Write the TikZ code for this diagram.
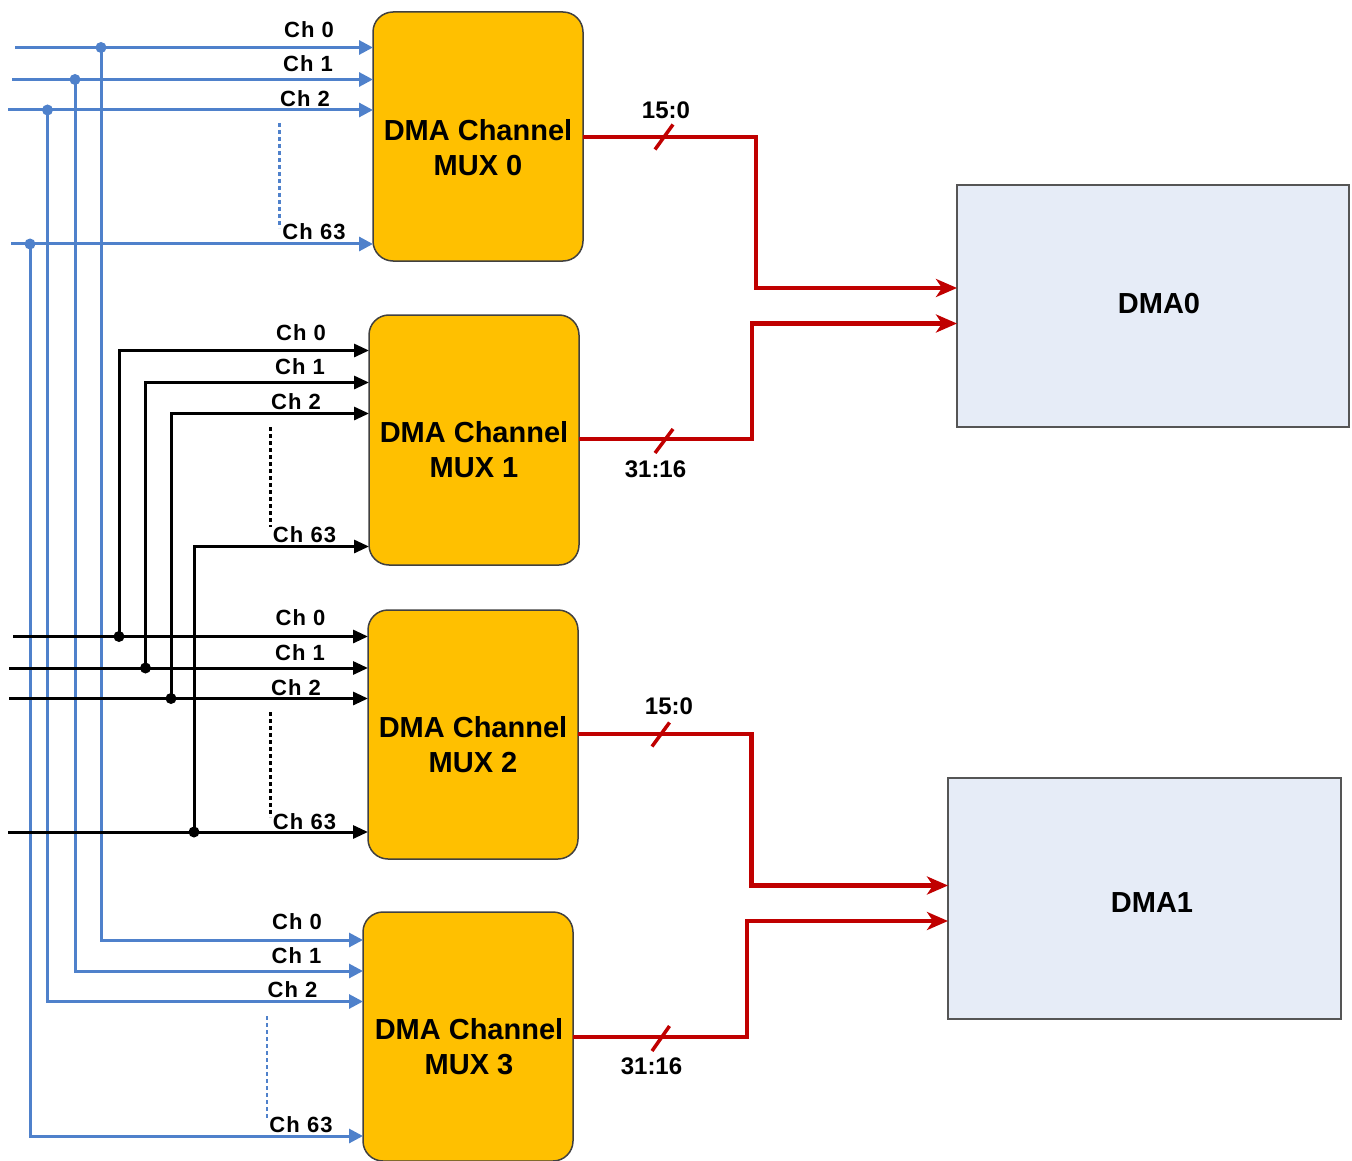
\documentclass[tikz,border=0pt]{standalone}
\usepackage{fontspec}
\setmainfont{Liberation Sans}
\newfontfamily\chfont[LetterSpace=5]{Liberation Sans}
\usetikzlibrary{arrows.meta}
\definecolor{muxfill}{HTML}{FFC000}
\definecolor{sigblue}{HTML}{4F81CB}
\definecolor{busred}{HTML}{C00000}
\definecolor{dmafill}{HTML}{E6ECF7}
\definecolor{dmaline}{HTML}{555555}
\begin{document}
\begin{tikzpicture}[x=1pt,y=-1pt,
  mux/.style={draw=black!75,line width=1.5pt,fill=muxfill,rounded corners=20pt,minimum width=210pt,minimum height=249pt,inner sep=0pt,outer sep=0pt,anchor=north west},
  dmabox/.style={draw=dmaline,line width=2.2pt,fill=dmafill,inner sep=0pt,outer sep=0pt,anchor=north west},
  muxtext/.style={font=\bfseries\fontsize{29}{35}\selectfont,align=center,inner sep=0pt},
  dmatext/.style={font=\bfseries\fontsize{29}{35}\selectfont,inner sep=0pt},
  chlab/.style={font=\chfont\bfseries\fontsize{22}{26}\selectfont,inner sep=0pt},
  buslab/.style={font=\bfseries\fontsize{24}{28}\selectfont,inner sep=0pt},
  bsig/.style={draw=sigblue,line width=3pt,-{Triangle[length=14pt,width=14pt]}},
  ksig/.style={draw=black,line width=3pt,-{Triangle[length=15pt,width=13pt]}},
  bdots/.style={draw=sigblue,line width=2.2pt,dash pattern=on 4pt off 3pt},
  kdots/.style={draw=black,line width=2.2pt,dash pattern=on 4pt off 3pt},
  bjoin/.style={circle,fill=sigblue,inner sep=0pt,minimum size=11pt},
  kjoin/.style={circle,fill=black,inner sep=0pt,minimum size=11pt},
  bus/.style={draw=busred,line width=4.5pt,-{Stealth[length=21pt,width=18pt,inset=6pt]}},
  tick/.style={draw=busred,line width=3.5pt},
]
\useasboundingbox (0,0) rectangle (1352,1161);

% MUX boxes
\node[mux] (M0) at (373,12) {};
\node[mux,minimum height=250pt] (M1) at (369,315) {};
\node[mux] (M2) at (368,610) {};
\node[mux] (M3) at (363,912) {};
\node[muxtext] (t0) at (478,148) {DMA Channel\\MUX 0};
\node[muxtext] (t1) at (474,450) {DMA Channel\\MUX 1};
\node[muxtext] (t2) at (473,744.5) {DMA Channel\\MUX 2};
\node[muxtext] (t3) at (469,1047) {DMA Channel\\MUX 3};

% DMA boxes
\node[dmabox,minimum width=392pt,minimum height=242pt] (D0) at (957,185) {};
\node[dmabox,minimum width=393pt,minimum height=241pt] (D1) at (948,778) {};
\node[dmatext] (dt0) at (1159,304) {DMA0};
\node[dmatext] (dt1) at (1152,902.5) {DMA1};

% blue inputs (MUX0 and MUX3)
\coordinate (bi0) at (15,47.5);
\coordinate (bi1) at (12,79.5);
\coordinate (bi2) at (8,110);
\coordinate (bi3) at (11,244);
\node[bjoin] (bj0) at (101,47.5) {};
\node[bjoin] (bj1) at (75,79.5) {};
\node[bjoin] (bj2) at (47.5,110) {};
\node[bjoin] (bj3) at (30,244) {};
\draw[bsig] (bi0) -- (M0.west |- bi0);
\draw[bsig] (bi1) -- (M0.west |- bi1);
\draw[bsig] (bi2) -- (M0.west |- bi2);
\draw[bsig] (bi3) -- (M0.west |- bi3);
\draw[bsig] (bj0.center) |- (M3.west |- 0,940);
\draw[bsig] (bj1.center) |- (M3.west |- 0,971);
\draw[bsig] (bj2.center) |- (M3.west |- 0,1001.5);
\draw[bsig] (bj3.center) |- (M3.west |- 0,1136);
\draw[bdots] (279.5,123) -- (279.5,228);
\draw[bdots] (267,1016) -- (267,1120);

% black inputs (MUX2 and MUX1)
\coordinate (ki0) at (13,636.5);
\coordinate (ki1) at (9,668);
\coordinate (ki2) at (9,698.5);
\coordinate (ki3) at (8,832);
\node[kjoin] (kj0) at (119,636.5) {};
\node[kjoin] (kj1) at (145.5,668) {};
\node[kjoin] (kj2) at (171,698.5) {};
\node[kjoin] (kj3) at (194,832) {};
\draw[ksig] (ki0) -- (M2.west |- ki0);
\draw[ksig] (ki1) -- (M2.west |- ki1);
\draw[ksig] (ki2) -- (M2.west |- ki2);
\draw[ksig] (ki3) -- (M2.west |- ki3);
\draw[ksig] (kj0.center) |- (M1.west |- 0,350.5);
\draw[ksig] (kj1.center) |- (M1.west |- 0,382.5);
\draw[ksig] (kj2.center) |- (M1.west |- 0,413.5);
\draw[ksig] (kj3.center) |- (M1.west |- 0,546.5);
\draw[kdots] (270.5,427) -- (270.5,527);
\draw[kdots] (270.5,712) -- (270.5,817);

% red buses
\draw[bus] (M0.east |- 0,137) -- (756,137) -- (756,288) -- (D0.west |- 0,288);
\draw[bus] (M1.east |- 0,439) -- (752,439) -- (752,323.5) -- (D0.west |- 0,323.5);
\draw[bus] (M2.east |- 0,734) -- (751.5,734) -- (751.5,885.5) -- (D1.west |- 0,885.5);
\draw[bus] (M3.east |- 0,1037) -- (747,1037) -- (747,921) -- (D1.west |- 0,921);
\draw[tick] (655,149.5) -- (673,124.5);
\draw[tick] (655,453) -- (673,429);
\draw[tick] (652,746.5) -- (669.5,722.5);
\draw[tick] (652,1051) -- (669.5,1026);
\node[buslab] (bl0) at (666,110.5) {15:0};
\node[buslab] (bl1) at (655.5,469) {31:16};
\node[buslab] (bl2) at (669,706) {15:0};
\node[buslab] (bl3) at (651.5,1066) {31:16};

% channel labels
\node[chlab] (c00) at (309,29.5) {Ch 0};
\node[chlab] (c01) at (308,63.5) {Ch 1};
\node[chlab] (c02) at (305,98.5) {Ch 2};
\node[chlab] (c03) at (314,232) {Ch 63};
\node[chlab] (c10) at (301,333) {Ch 0};
\node[chlab] (c11) at (300,366.5) {Ch 1};
\node[chlab] (c12) at (296,401.5) {Ch 2};
\node[chlab] (c13) at (304.5,534.5) {Ch 63};
\node[chlab] (c20) at (300.5,618) {Ch 0};
\node[chlab] (c21) at (300,653) {Ch 1};
\node[chlab] (c22) at (296,688) {Ch 2};
\node[chlab] (c23) at (304.5,821.5) {Ch 63};
\node[chlab] (c30) at (297,921.5) {Ch 0};
\node[chlab] (c31) at (296.5,955.5) {Ch 1};
\node[chlab] (c32) at (292.5,990) {Ch 2};
\node[chlab] (c33) at (301,1125) {Ch 63};
\end{tikzpicture}
\end{document}
